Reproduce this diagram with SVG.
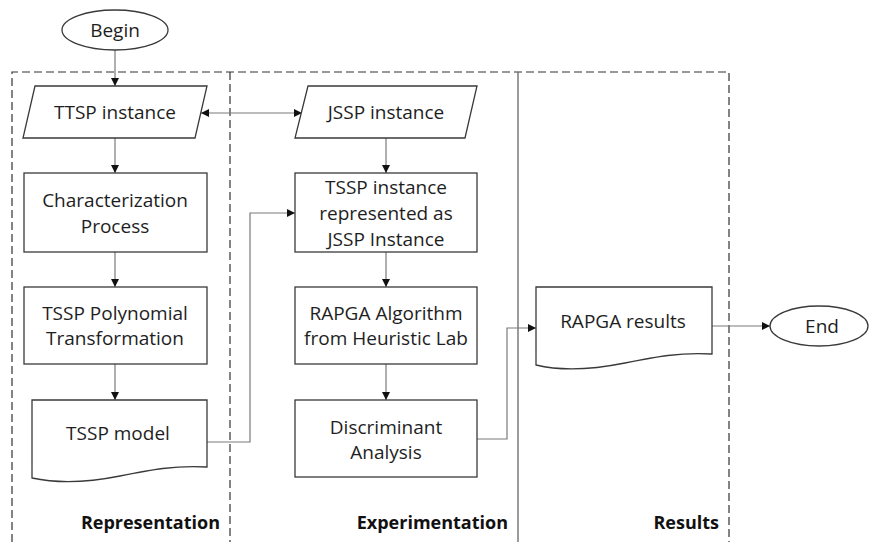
<svg xmlns="http://www.w3.org/2000/svg" width="870" height="542" viewBox="0 0 870 542">
<defs>
<style>
.shape{fill:#fff;stroke:#3a3a3a;stroke-width:1.3}
.conn{fill:none;stroke:#7a7a7a;stroke-width:1.2}
.t{font-family:"Open Sans","Liberation Sans",sans-serif;font-size:19px;fill:#1e1e1e;text-anchor:middle;dominant-baseline:central}
.lab{font-family:"Open Sans","Liberation Sans",sans-serif;font-size:18px;font-weight:bold;fill:#111;text-anchor:end}
.dash{fill:none;stroke:#333;stroke-width:1.2;stroke-dasharray:8,4}
</style>
<marker id="ah" viewBox="0 0 10 10" refX="10" refY="5" markerWidth="8" markerHeight="8" markerUnits="userSpaceOnUse" orient="auto-start-reverse">
<path d="M0,0 L10,5 L0,10 Z" fill="#111"/>
</marker>
</defs>
<g id="lanes">
<path class="dash" d="M12,542 V72 H729 V542"/>
<path class="dash" d="M230,72 V542"/>
<path d="M518,72 V542" stroke="#666" stroke-width="1.3" fill="none"/>
<text class="lab" x="220" y="529">Representation</text>
<text class="lab" x="508" y="529">Experimentation</text>
<text class="lab" x="719" y="529">Results</text>
</g>
<g id="connectors">
<path class="conn" d="M115,50 V86" marker-end="url(#ah)"/>
<path class="conn" d="M201,113 H302" marker-start="url(#ah)" marker-end="url(#ah)"/>
<path class="conn" d="M115,138 V173" marker-end="url(#ah)"/>
<path class="conn" d="M115,252 V287" marker-end="url(#ah)"/>
<path class="conn" d="M115,364 V400" marker-end="url(#ah)"/>
<path class="conn" d="M386,138 V173" marker-end="url(#ah)"/>
<path class="conn" d="M386,252 V287" marker-end="url(#ah)"/>
<path class="conn" d="M386,364 V400" marker-end="url(#ah)"/>
<path class="conn" d="M207,442 H250 V213 H295" marker-end="url(#ah)"/>
<path class="conn" d="M477,439 H507 V328 H536" marker-end="url(#ah)"/>
<path class="conn" d="M712,326 H770" marker-end="url(#ah)"/>
</g>
<g id="begin">
<ellipse class="shape" cx="115" cy="30" rx="53" ry="20"/>
<text class="t" x="115" y="30">Begin</text>
</g>
<g id="ttsp">
<path class="shape" d="M35,86 H207 L195,138 H23 Z"/>
<text class="t" x="115" y="112">TTSP instance</text>
</g>
<g id="jssp">
<path class="shape" d="M308,86 H477 L465,138 H295 Z"/>
<text class="t" x="386" y="112">JSSP instance</text>
</g>
<g id="characterization">
<rect class="shape" x="24" y="173" width="183" height="79"/>
<text class="t" x="115" y="200">Characterization</text>
<text class="t" x="115" y="226">Process</text>
</g>
<g id="polynomial">
<rect class="shape" x="24" y="287" width="183" height="77"/>
<text class="t" x="115" y="313">TSSP Polynomial</text>
<text class="t" x="115" y="338">Transformation</text>
</g>
<g id="model">
<path class="shape" d="M32,400 H207 V467 C175,465 150,470 120,476 C90,482 60,484 32,478 Z"/>
<text class="t" x="118" y="433">TSSP model</text>
</g>
<g id="tsspjssp">
<rect class="shape" x="295" y="173" width="182" height="79"/>
<text class="t" x="386" y="187">TSSP instance</text>
<text class="t" x="386" y="213">represented as</text>
<text class="t" x="386" y="239">JSSP Instance</text>
</g>
<g id="rapga">
<rect class="shape" x="295" y="287" width="182" height="77"/>
<text class="t" x="386" y="313">RAPGA Algorithm</text>
<text class="t" x="386" y="338">from Heuristic Lab</text>
</g>
<g id="discriminant">
<rect class="shape" x="295" y="400" width="182" height="77"/>
<text class="t" x="386" y="427">Discriminant</text>
<text class="t" x="386" y="452">Analysis</text>
</g>
<g id="results">
<path class="shape" d="M536,287 H712 V354 C680,352 655,357 625,363 C595,369 565,372 536,365 Z"/>
<text class="t" x="623" y="321">RAPGA results</text>
</g>
<g id="end">
<ellipse class="shape" cx="819" cy="326" rx="49" ry="20"/>
<text class="t" x="822" y="326">End</text>
</g>
</svg>
